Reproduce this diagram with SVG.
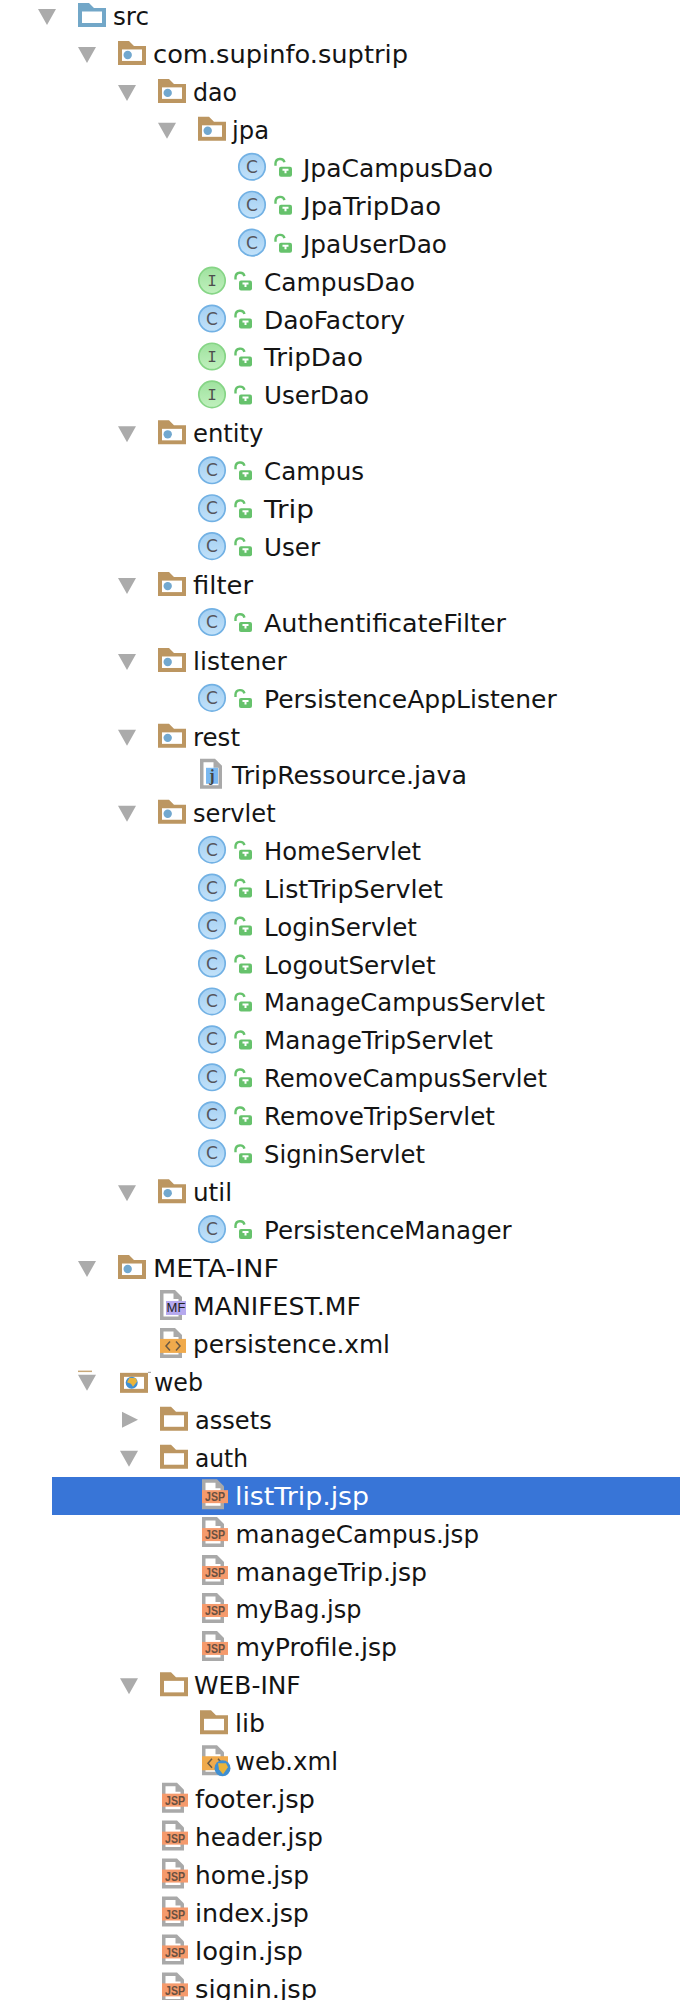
<svg xmlns="http://www.w3.org/2000/svg" width="680" height="2000" viewBox="0 0 680 2000">
<style>
text{font-family:"DejaVu Sans","Liberation Sans",sans-serif}
.t{font-size:24.2px;fill:#141414}
.sel{fill:#fff}
.tri{fill:#ababab}
.jsp{font-family:"Liberation Sans",sans-serif;font-weight:bold;font-size:13px;fill:#6a5040}
.ic{font-size:17px;fill:#55555c;text-anchor:middle}
.ii{font-family:"Liberation Mono",monospace;font-size:16px;fill:#4d4d4d;text-anchor:middle}
</style>
<defs>
<linearGradient id="gc" x1="0" y1="0" x2="0" y2="1"><stop offset="0" stop-color="#a3cff2"/><stop offset="1" stop-color="#c2e2fa"/></linearGradient>
<linearGradient id="gi" x1="0" y1="0" x2="0" y2="1"><stop offset="0" stop-color="#9fe29f"/><stop offset="1" stop-color="#c0f0bd"/></linearGradient>
<path id="down" class="tri" d="M0-6H18L9 10Z"/>
<path id="right" class="tri" d="M0-7L16 1 0 9Z"/>
<g id="folder"><path fill="#bc9661" d="M0-12H11L16-7H28V12H0Z"/><rect x="4" y="-3.500" width="20" height="11.500" fill="#fff"/></g>
<g id="srcfolder"><path fill="#72a7c8" d="M0-12H11L16-7H28V12H0Z"/><rect x="4" y="-3.500" width="20" height="11.500" fill="#fff"/></g>
<g id="pkg"><use href="#folder"/><circle cx="9.700" cy="2" r="4.200" fill="#72a8cf"/></g>
<g id="lock"><path d="M1.500-1V-3.500A4.600 4.600 0 0 1 10.500-4.500" fill="none" stroke="#66c26c" stroke-width="2.400"/><rect x="5" y="0" width="13" height="10" rx="2" fill="#66c26c"/><path d="M8.500 3H14.500M11.500 3V6.500" stroke="#fff" stroke-width="2" fill="none"/></g>
<g id="cls"><circle r="13.200" fill="url(#gc)" stroke="#72b1e4" stroke-width="1.700"/><text class="ic" y="6">C</text><use href="#lock" x="22" y="0"/></g>
<g id="ifc"><circle r="13.200" fill="url(#gi)" stroke="#86d586" stroke-width="1.700"/><text class="ii" y="5.500">I</text><use href="#lock" x="22" y="0"/></g>
<g id="file"><path fill="#a9a9a9" d="M0-15H15L22-8V15H0Z"/><path fill="#fff" d="M3.500-11.500H13.500V-6H18.500V11.500H3.500Z"/></g>
<g id="jspf"><use href="#file" y="-0.500"/><rect y="-4.500" width="26" height="13" fill="#f59a6c"/><text class="jsp" x="3" y="6.800" textLength="20" lengthAdjust="spacingAndGlyphs">JSP</text></g>
<g id="xml"><use href="#file"/><rect y="-4" width="26" height="14" fill="#f0aa4c"/><path d="M10-1.500L6 3 10 7.500M16-1.500L20 3 16 7.500" fill="none" stroke="#6b5a44" stroke-width="1.500"/></g>
</defs>
<g id="src" transform="translate(0,15)"><use href="#down" x="38"/><use href="#srcfolder" x="78"/><text class="t" x="113" y="10" textLength="36" lengthAdjust="spacingAndGlyphs">src</text></g>
<g id="com-supinfo-suptrip" transform="translate(0,52.94)"><use href="#down" x="78"/><use href="#pkg" x="118"/><text class="t" x="153" y="10" textLength="255" lengthAdjust="spacingAndGlyphs">com.supinfo.suptrip</text></g>
<g id="dao" transform="translate(0,90.88)"><use href="#down" x="118"/><use href="#pkg" x="158"/><text class="t" x="193" y="10" textLength="44" lengthAdjust="spacingAndGlyphs">dao</text></g>
<g id="jpa" transform="translate(0,128.82)"><use href="#down" x="158"/><use href="#pkg" x="198"/><text class="t" x="232" y="10" textLength="37" lengthAdjust="spacingAndGlyphs">jpa</text></g>
<g id="JpaCampusDao" transform="translate(0,166.76)"><use href="#cls" x="252"/><text class="t" x="303" y="10" textLength="190" lengthAdjust="spacingAndGlyphs">JpaCampusDao</text></g>
<g id="JpaTripDao" transform="translate(0,204.7)"><use href="#cls" x="252"/><text class="t" x="303" y="10" textLength="138" lengthAdjust="spacingAndGlyphs">JpaTripDao</text></g>
<g id="JpaUserDao" transform="translate(0,242.64)"><use href="#cls" x="252"/><text class="t" x="303" y="10" textLength="144" lengthAdjust="spacingAndGlyphs">JpaUserDao</text></g>
<g id="CampusDao" transform="translate(0,280.58)"><use href="#ifc" x="212"/><text class="t" x="264" y="10" textLength="151" lengthAdjust="spacingAndGlyphs">CampusDao</text></g>
<g id="DaoFactory" transform="translate(0,318.52)"><use href="#cls" x="212"/><text class="t" x="264" y="10" textLength="141" lengthAdjust="spacingAndGlyphs">DaoFactory</text></g>
<g id="TripDao" transform="translate(0,356.46)"><use href="#ifc" x="212"/><text class="t" x="264" y="10" textLength="99" lengthAdjust="spacingAndGlyphs">TripDao</text></g>
<g id="UserDao" transform="translate(0,394.4)"><use href="#ifc" x="212"/><text class="t" x="264" y="10" textLength="105" lengthAdjust="spacingAndGlyphs">UserDao</text></g>
<g id="entity" transform="translate(0,432.34)"><use href="#down" x="118"/><use href="#pkg" x="158"/><text class="t" x="193" y="10" textLength="70.500" lengthAdjust="spacingAndGlyphs">entity</text></g>
<g id="Campus" transform="translate(0,470.28)"><use href="#cls" x="212"/><text class="t" x="264" y="10" textLength="100" lengthAdjust="spacingAndGlyphs">Campus</text></g>
<g id="Trip" transform="translate(0,508.22)"><use href="#cls" x="212"/><text class="t" x="264" y="10" textLength="50" lengthAdjust="spacingAndGlyphs">Trip</text></g>
<g id="User" transform="translate(0,546.16)"><use href="#cls" x="212"/><text class="t" x="264" y="10" textLength="56" lengthAdjust="spacingAndGlyphs">User</text></g>
<g id="filter" transform="translate(0,584.1)"><use href="#down" x="118"/><use href="#pkg" x="158"/><text class="t" x="193" y="10" textLength="60" lengthAdjust="spacingAndGlyphs">filter</text></g>
<g id="AuthentificateFilter" transform="translate(0,622.04)"><use href="#cls" x="212"/><text class="t" x="264" y="10" textLength="242" lengthAdjust="spacingAndGlyphs">AuthentificateFilter</text></g>
<g id="listener" transform="translate(0,659.98)"><use href="#down" x="118"/><use href="#pkg" x="158"/><text class="t" x="193" y="10" textLength="93.700" lengthAdjust="spacingAndGlyphs">listener</text></g>
<g id="PersistenceAppListener" transform="translate(0,697.92)"><use href="#cls" x="212"/><text class="t" x="264" y="10" textLength="292.700" lengthAdjust="spacingAndGlyphs">PersistenceAppListener</text></g>
<g id="rest" transform="translate(0,735.86)"><use href="#down" x="118"/><use href="#pkg" x="158"/><text class="t" x="193" y="10" textLength="47" lengthAdjust="spacingAndGlyphs">rest</text></g>
<g id="TripRessource" transform="translate(0,773.8)"><use href="#file" x="200"/><rect x="206" y="-6" width="12" height="16" fill="#7ab8f0"/><text x="212" y="7" style="font-family:'Liberation Serif',serif;font-size:16px;font-weight:bold;fill:#444;text-anchor:middle">j</text><text class="t" x="232" y="10" textLength="235" lengthAdjust="spacingAndGlyphs">TripRessource.java</text></g>
<g id="servlet" transform="translate(0,811.74)"><use href="#down" x="118"/><use href="#pkg" x="158"/><text class="t" x="193" y="10" textLength="82.600" lengthAdjust="spacingAndGlyphs">servlet</text></g>
<g id="HomeServlet" transform="translate(0,849.68)"><use href="#cls" x="212"/><text class="t" x="264" y="10" textLength="157" lengthAdjust="spacingAndGlyphs">HomeServlet</text></g>
<g id="ListTripServlet" transform="translate(0,887.62)"><use href="#cls" x="212"/><text class="t" x="264" y="10" textLength="179" lengthAdjust="spacingAndGlyphs">ListTripServlet</text></g>
<g id="LoginServlet" transform="translate(0,925.56)"><use href="#cls" x="212"/><text class="t" x="264" y="10" textLength="153" lengthAdjust="spacingAndGlyphs">LoginServlet</text></g>
<g id="LogoutServlet" transform="translate(0,963.5)"><use href="#cls" x="212"/><text class="t" x="264" y="10" textLength="171.700" lengthAdjust="spacingAndGlyphs">LogoutServlet</text></g>
<g id="ManageCampusServlet" transform="translate(0,1001.44)"><use href="#cls" x="212"/><text class="t" x="264" y="10" textLength="281" lengthAdjust="spacingAndGlyphs">ManageCampusServlet</text></g>
<g id="ManageTripServlet" transform="translate(0,1039.38)"><use href="#cls" x="212"/><text class="t" x="264" y="10" textLength="229" lengthAdjust="spacingAndGlyphs">ManageTripServlet</text></g>
<g id="RemoveCampusServlet" transform="translate(0,1077.32)"><use href="#cls" x="212"/><text class="t" x="264" y="10" textLength="283" lengthAdjust="spacingAndGlyphs">RemoveCampusServlet</text></g>
<g id="RemoveTripServlet" transform="translate(0,1115.26)"><use href="#cls" x="212"/><text class="t" x="264" y="10" textLength="231" lengthAdjust="spacingAndGlyphs">RemoveTripServlet</text></g>
<g id="SigninServlet" transform="translate(0,1153.2)"><use href="#cls" x="212"/><text class="t" x="264" y="10" textLength="161" lengthAdjust="spacingAndGlyphs">SigninServlet</text></g>
<g id="util" transform="translate(0,1191.14)"><use href="#down" x="118"/><use href="#pkg" x="158"/><text class="t" x="193" y="10" textLength="39" lengthAdjust="spacingAndGlyphs">util</text></g>
<g id="PersistenceManager" transform="translate(0,1229.08)"><use href="#cls" x="212"/><text class="t" x="264" y="10" textLength="247.700" lengthAdjust="spacingAndGlyphs">PersistenceManager</text></g>
<g id="META-INF" transform="translate(0,1267.02)"><use href="#down" x="78"/><use href="#pkg" x="118"/><text class="t" x="153" y="10" textLength="126" lengthAdjust="spacingAndGlyphs">META-INF</text></g>
<g id="MANIFEST" transform="translate(0,1304.96)"><use href="#file" x="160"/><rect x="166" y="-4" width="20" height="14" fill="#b6a9ee"/><text x="176" y="7.500" style="font-family:'Liberation Sans',sans-serif;font-size:13px;fill:#222;text-anchor:middle">MF</text><text class="t" x="193" y="10" textLength="168" lengthAdjust="spacingAndGlyphs">MANIFEST.MF</text></g>
<g id="persistence" transform="translate(0,1342.9)"><use href="#xml" x="160"/><text class="t" x="193" y="10" textLength="197" lengthAdjust="spacingAndGlyphs">persistence.xml</text></g>
<g id="web" transform="translate(0,1380.84)"><use href="#down" x="78"/><path d="M78-9.500H92" stroke="#c8a878" stroke-width="1.500"/><rect x="120" y="-8" width="28" height="20" fill="#bc9661"/><rect x="124" y="-4" width="20" height="12" fill="#fff"/><path d="M148-8.500H151" stroke="#999" stroke-width="1"/><circle cx="131.700" cy="2" r="6" fill="#3f8fd2"/><path d="M129.500-3L136-2.500 137 1 133 6 131 3 127 1.500Z" fill="#e9b43a"/><text class="t" x="154" y="10" textLength="49" lengthAdjust="spacingAndGlyphs">web</text></g>
<g id="assets" transform="translate(0,1418.78)"><use href="#right" x="122"/><use href="#folder" x="160"/><text class="t" x="195" y="10" textLength="76.700" lengthAdjust="spacingAndGlyphs">assets</text></g>
<g id="auth" transform="translate(0,1456.72)"><use href="#down" x="120"/><use href="#folder" x="160"/><text class="t" x="195" y="10" textLength="53" lengthAdjust="spacingAndGlyphs">auth</text></g>
<g id="listTrip" transform="translate(0,1494.66)"><rect x="52" y="-17.660" width="628" height="38" fill="#3875d7"/><use href="#jspf" x="202"/><text class="t sel" x="235" y="10" textLength="134" lengthAdjust="spacingAndGlyphs">listTrip.jsp</text></g>
<g id="manageCampus" transform="translate(0,1532.6)"><use href="#jspf" x="202"/><text class="t" x="235.500" y="10" textLength="243.500" lengthAdjust="spacingAndGlyphs">manageCampus.jsp</text></g>
<g id="manageTrip" transform="translate(0,1570.54)"><use href="#jspf" x="202"/><text class="t" x="235.500" y="10" textLength="191.500" lengthAdjust="spacingAndGlyphs">manageTrip.jsp</text></g>
<g id="myBag" transform="translate(0,1608.48)"><use href="#jspf" x="202"/><text class="t" x="235.500" y="10" textLength="126" lengthAdjust="spacingAndGlyphs">myBag.jsp</text></g>
<g id="myProfile" transform="translate(0,1646.42)"><use href="#jspf" x="202"/><text class="t" x="235.500" y="10" textLength="161.500" lengthAdjust="spacingAndGlyphs">myProfile.jsp</text></g>
<g id="WEB-INF" transform="translate(0,1684.36)"><use href="#down" x="120"/><use href="#folder" x="160"/><text class="t" x="194" y="10" textLength="106.700" lengthAdjust="spacingAndGlyphs">WEB-INF</text></g>
<g id="lib" transform="translate(0,1722.3)"><use href="#folder" x="200"/><text class="t" x="235" y="10" textLength="30" lengthAdjust="spacingAndGlyphs">lib</text></g>
<g id="web-xml" transform="translate(0,1760.24)"><use href="#xml" x="202"/><circle cx="222.500" cy="8" r="8" fill="#3f8fd2"/><path d="M218 3H226L228 7 223 14 219 9Z" fill="#e9b43a"/><text class="t" x="235" y="10" textLength="103" lengthAdjust="spacingAndGlyphs">web.xml</text></g>
<g id="footer" transform="translate(0,1798.18)"><use href="#jspf" x="162"/><text class="t" x="195" y="10" textLength="120" lengthAdjust="spacingAndGlyphs">footer.jsp</text></g>
<g id="header" transform="translate(0,1836.12)"><use href="#jspf" x="162"/><text class="t" x="195" y="10" textLength="128" lengthAdjust="spacingAndGlyphs">header.jsp</text></g>
<g id="home" transform="translate(0,1874.06)"><use href="#jspf" x="162"/><text class="t" x="195" y="10" textLength="114" lengthAdjust="spacingAndGlyphs">home.jsp</text></g>
<g id="index" transform="translate(0,1912)"><use href="#jspf" x="162"/><text class="t" x="195" y="10" textLength="114" lengthAdjust="spacingAndGlyphs">index.jsp</text></g>
<g id="login" transform="translate(0,1949.94)"><use href="#jspf" x="162"/><text class="t" x="195" y="10" textLength="108" lengthAdjust="spacingAndGlyphs">login.jsp</text></g>
<g id="signin" transform="translate(0,1987.88)"><use href="#jspf" x="162"/><text class="t" x="195" y="10" textLength="122" lengthAdjust="spacingAndGlyphs">signin.jsp</text></g>
</svg>
